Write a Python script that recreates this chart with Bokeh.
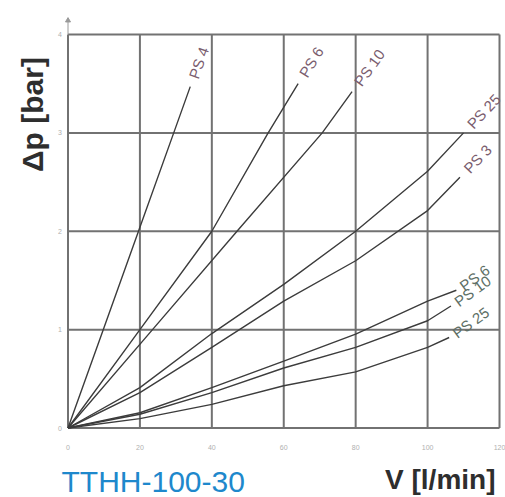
import math
from bokeh.plotting import figure
from bokeh.models import ColumnDataSource
from bokeh.core.properties import value
from bokeh.embed import file_html
from bokeh.resources import INLINE

# ---- data ----
x_ticks = [0, 20, 40, 60, 80, 100, 120]
y_ticks = [0, 1, 2, 3, 4]

curve_names = ["PS 4", "PS 6", "PS 10", "PS 25", "PS 3", "PS 6", "PS 10", "PS 25"]
curve_group = ["upper", "upper", "upper", "upper", "upper", "lower", "lower", "lower"]

flow_1 = [0, 10, 20, 29.4, 34]
dp_1 = [0, 1.02, 2.04, 3.0, 3.47]
flow_2 = [0, 20, 40, 55.5, 64]
dp_2 = [0, 1.0, 2.0, 2.99, 3.5]
flow_3 = [0, 23.5, 47, 70.7, 79]
dp_3 = [0, 1.0, 2.0, 3.0, 3.42]
flow_4 = [0, 20, 40, 60, 80, 100, 110]
dp_4 = [0, 0.41, 0.96, 1.46, 2.0, 2.61, 3.0]
flow_5 = [0, 20, 40, 60, 80, 100, 109]
dp_5 = [0, 0.36, 0.82, 1.29, 1.70, 2.21, 2.55]
flow_6 = [0, 20, 40, 60, 80, 100, 108]
dp_6 = [0, 0.155, 0.41, 0.68, 0.955, 1.29, 1.40]
flow_7 = [0, 20, 40, 60, 80, 100, 106.5]
dp_7 = [0, 0.14, 0.36, 0.61, 0.82, 1.09, 1.24]
flow_8 = [0, 20, 40, 60, 80, 100, 106]
dp_8 = [0, 0.095, 0.24, 0.43, 0.57, 0.82, 0.92]

flows = [flow_1, flow_2, flow_3, flow_4, flow_5, flow_6, flow_7, flow_8]
dps = [dp_1, dp_2, dp_3, dp_4, dp_5, dp_6, dp_7, dp_8]

y_title = "Δp [bar]"
x_title = "V [l/min]"
model_name = "TTHH-100-30"

# ---- layout geometry (canvas pixels) ----
W, H = 505, 497
LEFT, RIGHT = 67.5, 499.0   # x of 0 and 120 l/min
TOP, BOTTOM = 34.0, 427.5   # y of 4 and 0 bar
kx = (RIGHT - LEFT) / 120.0
ky = (BOTTOM - TOP) / 4.0


def dx(px):
    return px / kx


def dy(py):
    return py / ky


x_start = -dx(LEFT)
x_end = x_start + dx(W)
y_end = 4 + dy(TOP)
y_start = y_end - dy(H)

p = figure(width=W, height=H, x_range=(x_start, x_end), y_range=(y_start, y_end),
           output_backend="svg", toolbar_location=None,
           min_border=0, min_border_left=0, min_border_right=0,
           min_border_top=0, min_border_bottom=0)
p.axis.visible = False
p.grid.visible = False
p.outline_line_color = None
p.background_fill_color = "white"
p.border_fill_color = "white"

font = value("Liberation Sans")
grid_col = "#727272"

# grid lines at the tick values
nx, ny = len(x_ticks), len(y_ticks)
p.segment(x0=x_ticks, y0=[y_ticks[0]] * nx, x1=x_ticks, y1=[y_ticks[-1]] * nx,
          line_color=grid_col, line_width=2)
p.segment(x0=[x_ticks[0]] * ny, y0=y_ticks, x1=[x_ticks[-1]] * ny, y1=y_ticks,
          line_color=grid_col, line_width=2)
# small arrow tip of the y axis
p.segment(x0=[0], y0=[4], x1=[0], y1=[4 + dy(14)], line_color="#9a9a9a", line_width=1)
p.scatter(x=[0], y=[4 + dy(14)], marker="triangle", size=5,
          fill_color="#9a9a9a", line_color="#9a9a9a")

# tick labels
p.text(x=x_ticks, y=[-dy(19)] * nx, text=[str(t) for t in x_ticks],
       text_align="center", text_baseline="middle", text_font=font,
       text_font_size="7px", text_color="#b0b0b0")
p.text(x=[-dx(6)] * ny, y=y_ticks, text=[str(t) for t in y_ticks],
       text_align="right", text_baseline="middle", text_font=font,
       text_font_size="7px", text_color="#b0b0b0")

# curves and their labels
lx, ly, lang, ltxt, lcol = [], [], [], [], []
for name, grp, fv, pv in zip(curve_names, curve_group, flows, dps):
    p.line(fv, pv, line_color="#3c3c3c", line_width=1.4)
    if grp == "upper":
        ang = math.atan2((pv[-1] - pv[-2]) * ky, (fv[-1] - fv[-2]) * kx)
        gx, gy = 9 * math.cos(ang), 9 * math.sin(ang)
        col = "#7a5d6e"
    else:
        ang = math.radians(36)
        gx, gy = 5, 3
        col = "#5e6f66"
    lx.append(fv[-1] + dx(gx))
    ly.append(pv[-1] + dy(gy))
    lang.append(ang)
    ltxt.append(name)
    lcol.append(col)

src = ColumnDataSource(dict(x=lx, y=ly, angle=lang, text=ltxt, color=lcol))
p.text(x="x", y="y", text="text", angle="angle", source=src,
       text_align="left", text_baseline="middle", text_font=font,
       text_font_size="15px", text_color="color")

# titles
p.text(x=[dx(32 - LEFT)], y=[4 - dy(114 - TOP)], text=[y_title], angle=math.pi / 2,
       text_align="center", text_baseline="middle", text_font=font,
       text_font_style="bold", text_font_size="30px", text_color="#2e2e2e")
p.text(x=[dx(495 - LEFT)], y=[4 - dy(479 - TOP)], text=[x_title],
       text_align="right", text_baseline="middle", text_font=font,
       text_font_style="bold", text_font_size="28px", text_color="#2e2e2e")
p.text(x=[dx(61 - LEFT)], y=[4 - dy(481 - TOP)], text=[model_name],
       text_align="left", text_baseline="middle", text_font=font,
       text_font_size="30px", text_color="#1e88cc")

open("out.html", "w").write(file_html(p, INLINE))
